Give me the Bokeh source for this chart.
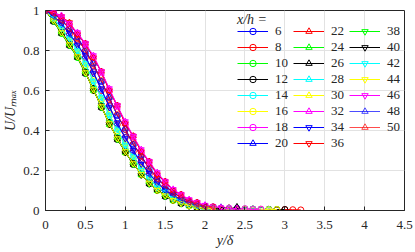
import math
from bokeh.plotting import figure
from bokeh.models import Legend, LegendItem, Label, FixedTicker, Range1d
from bokeh.embed import file_html
from bokeh.resources import INLINE

# ---------------- data ----------------
YD = [0.0, 0.1, 0.2, 0.3, 0.4, 0.5, 0.6, 0.7, 0.8, 0.9, 1.0, 1.1, 1.2, 1.3, 1.4, 1.5,
      1.6, 1.7, 1.8, 1.9, 2.0, 2.1, 2.2, 2.3, 2.4, 2.5, 2.6, 2.7, 2.8, 2.9, 3.0, 3.1, 3.2]

X_H = [6, 8, 10, 12, 14, 16, 18, 20, 22, 24, 26, 28, 30, 32, 34, 36, 38, 40, 42, 44, 46, 48, 50]

U6 = [1.00, 0.99, 0.95, 0.91, 0.87, 0.80, 0.735, 0.645, 0.565, 0.475, 0.405, 0.33, 0.275, 0.21, 0.168, 0.12, 0.095, 0.062, 0.048, 0.029, 0.022, 0.013, 0.011, 0.008, 0.010, 0.006]
U8 = [1.00, 0.97, 0.94, 0.88, 0.835, 0.765, 0.695, 0.60, 0.525, 0.43, 0.365, 0.295, 0.245, 0.18, 0.145, 0.10, 0.08, 0.051, 0.041, 0.024, 0.019, 0.010, 0.011, 0.006, 0.009, 0.005, 0.007, 0.004, 0.006, 0.003, 0.005, 0.004, 0.003]
U10 = [1.00, 0.95, 0.885, 0.835, 0.765, 0.695, 0.60, 0.525, 0.43, 0.365, 0.29, 0.24, 0.178, 0.143, 0.10, 0.079, 0.05, 0.04, 0.023, 0.019, 0.010, 0.012, 0.006, 0.009, 0.005, 0.008, 0.004, 0.006, 0.003, 0.005]
U12 = [1.00, 0.945, 0.89, 0.825, 0.77, 0.685, 0.61, 0.515, 0.44, 0.355, 0.295, 0.23, 0.185, 0.133, 0.104, 0.07, 0.055, 0.034, 0.027, 0.015, 0.014, 0.007, 0.010, 0.005, 0.008, 0.004, 0.007, 0.003, 0.006, 0.004, 0.005]
U14 = [1.00, 0.96, 0.915, 0.855, 0.805, 0.725, 0.655, 0.555, 0.485, 0.395, 0.335, 0.26, 0.212, 0.157, 0.122, 0.085, 0.065, 0.042, 0.033, 0.019, 0.016, 0.009, 0.011, 0.006, 0.008, 0.005, 0.007, 0.004, 0.005]
U16 = [1.00, 0.955, 0.89, 0.83, 0.775, 0.69, 0.60, 0.52, 0.43, 0.36, 0.29, 0.235, 0.178, 0.14, 0.10, 0.077, 0.05, 0.039, 0.023, 0.018, 0.011, 0.010, 0.006, 0.008, 0.005, 0.007, 0.004, 0.006, 0.004, 0.005]
U18 = [1.00, 0.985, 0.965, 0.925, 0.885, 0.835, 0.765, 0.695, 0.60, 0.525, 0.435, 0.372, 0.295, 0.245, 0.18, 0.145, 0.10, 0.08, 0.05, 0.04, 0.022, 0.019, 0.010, 0.012, 0.007, 0.009, 0.005, 0.007]
U20 = [1.00, 0.98, 0.96, 0.905, 0.865, 0.795, 0.735, 0.645, 0.565, 0.475, 0.41, 0.33, 0.275, 0.205, 0.165, 0.117, 0.094, 0.061, 0.048, 0.029, 0.024, 0.012, 0.016, 0.008, 0.011]
U22 = [1.00, 0.99, 0.97, 0.94, 0.88, 0.835, 0.765, 0.695, 0.60, 0.525, 0.435, 0.372, 0.295, 0.245, 0.18, 0.145, 0.10, 0.08, 0.05, 0.04, 0.022, 0.019, 0.010, 0.013, 0.007]
U24 = [1.00, 0.95, 0.895, 0.83, 0.77, 0.695, 0.60, 0.525, 0.43, 0.365, 0.29, 0.24, 0.178, 0.143, 0.10, 0.079, 0.05, 0.04, 0.023, 0.019, 0.010, 0.012, 0.006, 0.009]
U26 = [1.00, 0.945, 0.885, 0.825, 0.765, 0.685, 0.61, 0.515, 0.44, 0.355, 0.295, 0.23, 0.185, 0.133, 0.104, 0.07, 0.055, 0.034, 0.027, 0.015, 0.014, 0.007, 0.010, 0.005, 0.018]
U28 = [1.00, 0.965, 0.905, 0.865, 0.795, 0.735, 0.645, 0.565, 0.475, 0.405, 0.325, 0.27, 0.202, 0.163, 0.114, 0.093, 0.06, 0.048, 0.028, 0.024, 0.012, 0.016, 0.008, 0.011]
U30 = [1.00, 0.955, 0.915, 0.855, 0.805, 0.725, 0.655, 0.555, 0.485, 0.395, 0.335, 0.26, 0.212, 0.157, 0.122, 0.085, 0.065, 0.042, 0.033, 0.019, 0.016, 0.009, 0.011, 0.006]
U32 = [1.00, 0.99, 0.975, 0.93, 0.89, 0.825, 0.775, 0.685, 0.61, 0.515, 0.445, 0.362, 0.305, 0.235, 0.19, 0.135, 0.106, 0.072, 0.055, 0.034, 0.027, 0.015, 0.014, 0.008, 0.010]
U34 = [1.00, 0.975, 0.93, 0.89, 0.825, 0.775, 0.685, 0.61, 0.515, 0.44, 0.36, 0.302, 0.232, 0.188, 0.134, 0.105, 0.071, 0.055, 0.034, 0.027, 0.015, 0.014]
U36 = [1.00, 0.985, 0.97, 0.94, 0.88, 0.835, 0.765, 0.695, 0.60, 0.525, 0.435, 0.372, 0.295, 0.245, 0.18, 0.145, 0.10, 0.08, 0.05, 0.04, 0.022, 0.019, 0.010]
U38 = [1.00, 0.945, 0.885, 0.825, 0.765, 0.685, 0.61, 0.515, 0.44, 0.355, 0.295, 0.23, 0.185, 0.133, 0.104, 0.07, 0.055, 0.034, 0.027, 0.015, 0.014, 0.007]
U40 = [1.00, 0.95, 0.895, 0.835, 0.77, 0.695, 0.60, 0.525, 0.43, 0.365, 0.29, 0.24, 0.178, 0.143, 0.10, 0.079, 0.05, 0.04, 0.023, 0.019, 0.010, 0.012, 0.006]
U42 = [1.00, 0.96, 0.91, 0.86, 0.80, 0.735, 0.645, 0.565, 0.475, 0.405, 0.325, 0.27, 0.202, 0.163, 0.114, 0.093, 0.06, 0.048, 0.028, 0.024, 0.012, 0.016]
U44 = [1.00, 0.95, 0.89, 0.83, 0.77, 0.69, 0.605, 0.52, 0.435, 0.36, 0.295, 0.235, 0.182, 0.138, 0.102, 0.075, 0.052, 0.037, 0.025, 0.017, 0.012, 0.009]
U46 = [1.00, 0.99, 0.97, 0.935, 0.89, 0.835, 0.775, 0.695, 0.61, 0.525, 0.445, 0.372, 0.305, 0.245, 0.19, 0.145, 0.106, 0.08, 0.055, 0.04, 0.027, 0.019, 0.014]
U48 = [1.00, 0.97, 0.935, 0.88, 0.83, 0.765, 0.695, 0.60, 0.525, 0.43, 0.37, 0.295, 0.245, 0.18, 0.145, 0.10, 0.08, 0.051, 0.041, 0.024, 0.019]
U50 = [1.00, 0.985, 0.95, 0.91, 0.855, 0.80, 0.725, 0.655, 0.555, 0.485, 0.40, 0.338, 0.265, 0.213, 0.157, 0.124, 0.086, 0.066, 0.043, 0.033, 0.019, 0.016]

PROFILES = [U6, U8, U10, U12, U14, U16, U18, U20, U22, U24, U26, U28, U30, U32,
            U34, U36, U38, U40, U42, U44, U46, U48, U50]

X_TICKS = [0, 0.5, 1, 1.5, 2, 2.5, 3, 3.5, 4, 4.5]
X_TICK_LABELS = ["0", "0.5", "1", "1.5", "2", "2.5", "3", "3.5", "4", "4.5"]
Y_TICKS = [0, 0.2, 0.4, 0.6, 0.8, 1]
Y_TICK_LABELS = ["0", "0.2", "0.4", "0.6", "0.8", "1"]

# ---------------- styles ----------------
CYCLE = ["#0000FF", "#FF0000", "#00FF00", "#000000", "#00FFFF", "#FFFF00", "#FF00FF"]
SERIF = "'Liberation Serif', 'Times New Roman', serif"
AX = "#262626"
FRAME_H = 200
ROW_H = 16

p = figure(frame_width=359, frame_height=FRAME_H,
           x_range=Range1d(0, 4.5), y_range=Range1d(0, 1),
           output_backend="svg", toolbar_location=None,
           min_border_left=36, min_border_right=12, min_border_top=10, min_border_bottom=30)
p.background_fill_color = "white"
p.border_fill_color = "white"
p.outline_line_color = AX
p.outline_line_width = 1

for ax, ticks, labels in ((p.xaxis[0], X_TICKS, X_TICK_LABELS), (p.yaxis[0], Y_TICKS, Y_TICK_LABELS)):
    ax.ticker = FixedTicker(ticks=ticks)
    ax.major_label_overrides = {t: l for t, l in zip(ticks, labels)}
    ax.major_tick_in = 4
    ax.major_tick_out = 0
    ax.minor_tick_line_color = None
    ax.axis_line_color = AX
    ax.major_tick_line_color = AX
    ax.major_label_text_font = SERIF
    ax.major_label_text_font_size = "13px"
    ax.major_label_text_color = AX
    ax.axis_label_text_font = SERIF
    ax.axis_label_text_font_style = "italic"
    ax.axis_label_text_font_size = "14px"
    ax.axis_label_text_color = AX

p.xaxis.axis_label = "y/δ"
p.yaxis.axis_label = "U/Uₘₐₓ"
p.xaxis.major_label_standoff = 10
p.xaxis.axis_label_standoff = 1
p.yaxis.major_label_standoff = 6
p.yaxis.axis_label_standoff = 2

p.xgrid.ticker = FixedTicker(ticks=X_TICKS)
p.ygrid.ticker = FixedTicker(ticks=Y_TICKS)
p.grid.grid_line_color = "#E2E2E2"
p.grid.grid_line_width = 1

items = []
for i, (xh, u) in enumerate(zip(X_H, PROFILES)):
    color = CYCLE[i % 7]
    if i < 7:
        marker, angle = "circle", 0.0
    elif i < 14:
        marker, angle = "triangle", 0.0
    elif i < 21:
        marker, angle = "inverted_triangle", 0.0
    else:
        marker, angle = "triangle", math.pi / 2
    alpha = 0.7 if i >= 21 else 1.0
    y = YD[:len(u)]
    r1 = p.line(y, u, line_color=color, line_width=1, line_alpha=alpha)
    r2 = p.scatter(y, u, marker=marker, angle=angle, size=6, line_color=color,
                   line_width=1, fill_alpha=0, line_alpha=alpha)
    items.append(LegendItem(label=str(xh), renderers=[r1, r2]))

cols = [items[0:8], items[8:16], items[16:23]]
xs = [192, 248, 304]
for col, lx in zip(cols, xs):
    n = len(col)
    h = n * ROW_H
    ly = FRAME_H - 13 - h
    leg = Legend(items=col, location=(lx, ly), orientation="vertical",
                 padding=0, margin=0, spacing=0, glyph_width=31, glyph_height=ROW_H,
                 label_height=ROW_H, label_standoff=7,
                 label_text_font=SERIF, label_text_font_size="13px", label_text_color=AX,
                 border_line_alpha=0, background_fill_alpha=0)
    p.add_layout(leg)

p.add_layout(Label(x=2.40, y=0.955, text="x/h =", text_font=SERIF, text_font_style="italic",
                   text_font_size="14px", text_color=AX, text_baseline="middle", text_align="left"))

open("out.html", "w").write(file_html(p, INLINE))
